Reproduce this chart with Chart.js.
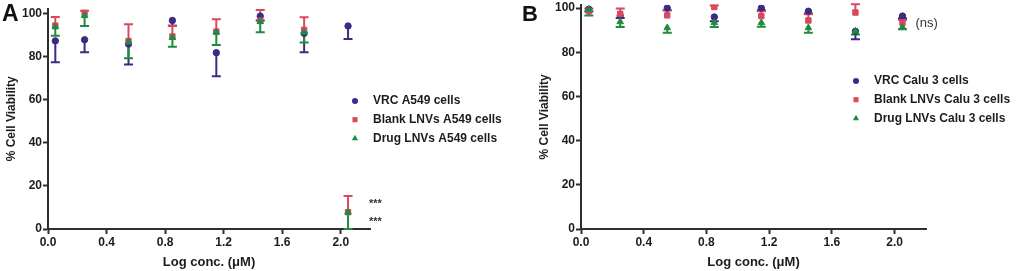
<!DOCTYPE html>
<html>
<head>
<meta charset="utf-8">
<script src="https://cdn.jsdelivr.net/npm/chart.js@4/dist/chart.umd.min.js"></script>
<style>
  html, body { margin: 0; padding: 0; background: #fff; }
  #wrap { position: relative; width: 1024px; height: 271px; overflow: hidden; }
  .box { position: absolute; top: 0; width: 512px; height: 271px; }
</style>
</head>
<body>
<div id="wrap">
  <div class="box" style="left:0"><canvas id="chartA" width="512" height="271"></canvas></div>
  <div class="box" style="left:512px"><canvas id="chartB" width="512" height="271"></canvas></div>
</div>
<script>
// log concentrations (uM), same for both panels
const logConc = [0.05, 0.25, 0.55, 0.85, 1.15, 1.45, 1.75, 2.05]
const xTicks = [0, 0.4, 0.8, 1.2, 1.6, 2.0]
const yTicks = [0, 20, 40, 60, 80, 100]

// panel A - A549 cells (mean, SD)
const vrcA = [87.5, 88, 86, 97, 82, 99, 91, 94.4]
const vrcAErr = [10, 5.8, 9.5, 2.5, 11, 2, 8.8, 6]
const blankA = [94.6, 100.5, 87.4, 89.5, 91.8, 96.9, 92.6, 7.8]
const blankAErr = [4, 1, 7.8, 5, 5.7, 5, 5.9, 7.5]
const drugA = [94, 99.2, 87, 89, 91.5, 96.4, 91.5, 7.8]
const drugAErr = [4.1, 4.8, 7.6, 4.2, 5.9, 4.9, 4.8, 7.8]

// panel B - Calu 3 cells (mean, SD)
const vrcB = [99.5, 96.5, 100, 96, 100, 98.6, 89.5, 96.4]
const vrcBErr = [1, 1, 1, 2, 1, 1, 3.6, 1]
const blankB = [98.6, 97.4, 96.7, 100.5, 96.4, 94.4, 98, 93.4]
const blankBErr = [1.2, 2.4, 2.3, 0.7, 2.2, 2.8, 3.7, 1.2]
const drugB = [99.4, 93.8, 91.1, 93.4, 93.4, 91.1, 89.6, 91.4]
const drugBErr = [2.8, 2.4, 2.2, 2, 1.8, 2.2, 1.6, 1]

const PURPLE = '#3C2B85'
const RED = '#D9485E'
const GREEN = '#1F8B3F'
const AXIS = '#2e2e2e'
const TXT = '#1c1c1c'
const FONT = "'Liberation Sans', Arial, sans-serif"

Chart.defaults.font.family = FONT

const makeSet = (label, values, errs, dir, color, style, radius, order) => ({
    label: label,
    data: values.map((v, i) => ({ x: logConc[i], y: v })),
    errors: errs,
    errDir: dir,
    pointStyle: style,
    pointRadius: radius,
    pointHoverRadius: radius,
    backgroundColor: color,
    borderColor: color,
    pointBorderWidth: 1,
    showLine: false,
    order: order
})

// error bars, one-sided like the original figure
const errorBars = {
    id: 'errorBars',
    beforeDatasetsDraw(chart) {
        const { ctx, scales: { x, y } } = chart
        chart.data.datasets.forEach(ds => {
            ctx.save()
            ctx.strokeStyle = ds.borderColor
            ctx.lineWidth = 2
            ds.data.forEach((p, i) => {
                const e = ds.errors[i]
                if (!e) return
                const px = x.getPixelForValue(p.x)
                const py = y.getPixelForValue(p.y)
                const ey = y.getPixelForValue(p.y + ds.errDir * e)
                ctx.beginPath()
                ctx.moveTo(px, py)
                ctx.lineTo(px, ey)
                ctx.moveTo(px - 4.5, ey)
                ctx.lineTo(px + 4.5, ey)
                ctx.stroke()
            })
            ctx.restore()
        })
    }
}

// legend + panel letter + notes drawn on the canvas
const extras = {
    id: 'extras',
    afterDraw(chart, args, opts) {
        const { ctx, scales: { x, y } } = chart
        ctx.save()
        // panel letter
        ctx.fillStyle = '#111'
        ctx.font = 'bold ' + opts.letterSize + 'px ' + FONT
        ctx.textBaseline = 'alphabetic'
        ctx.textAlign = 'left'
        ctx.fillText(opts.letter, opts.letterX, 21)
        // legend
        ctx.font = 'bold 12px ' + FONT
        ctx.textBaseline = 'middle'
        chart.data.datasets.forEach((ds, i) => {
            const ly = opts.legendY + i * 18.7
            ctx.fillStyle = ds.backgroundColor
            ctx.strokeStyle = ds.borderColor
            Chart.helpers.drawPoint(ctx, { pointStyle: ds.pointStyle, radius: ds.pointStyle === 'circle' ? 3 : 3.6, rotation: 0, borderWidth: 0 }, opts.legendX, ly)
            ctx.fillStyle = TXT
            ctx.fillText(ds.label, opts.legendX + 18, ly)
        })
        // significance notes
        ;(opts.notes || []).forEach(n => {
            ctx.font = n.font
            ctx.fillStyle = '#333'
            ctx.textAlign = 'left'
            ctx.fillText(n.text, x.getPixelForValue(n.x) + n.dx, y.getPixelForValue(n.y))
        })
        ctx.restore()
    }
}

const makeChart = (id, datasets, yMax, pad, opts) => new Chart(document.getElementById(id), {
    type: 'scatter',
    data: { datasets: datasets },
    plugins: [errorBars, extras],
    options: {
        responsive: false,
        animation: false,
        layout: { padding: pad },
        plugins: {
            legend: { display: false },
            tooltip: { enabled: false },
            extras: opts
        },
        scales: {
            x: {
                type: 'linear',
                min: 0,
                max: 2.2,
                afterBuildTicks: s => { s.ticks = xTicks.map(v => ({ value: v })) },
                afterFit: s => { s.height = 42; s.paddingLeft = 0; s.paddingRight = 0 },
                grid: { drawOnChartArea: false, drawTicks: true, tickLength: 5, tickWidth: 2, tickColor: AXIS },
                border: { color: AXIS, width: 2 },
                ticks: { padding: 1, color: TXT, font: { size: 12, weight: 'bold' }, callback: v => Number(v).toFixed(1) },
                title: { display: true, text: 'Log conc. (μM)', color: TXT, font: { size: 13, weight: 'bold' }, padding: { top: 0, bottom: 1 } }
            },
            y: {
                min: 0,
                max: yMax,
                afterBuildTicks: s => { s.ticks = yTicks.map(v => ({ value: v })) },
                afterFit: s => { s.width = 48; s.paddingTop = 0; s.paddingBottom = 0 },
                grid: { drawOnChartArea: false, drawTicks: true, tickLength: 5, tickWidth: 2, tickColor: AXIS },
                border: { color: AXIS, width: 2 },
                ticks: { padding: 1, color: TXT, font: { size: 12, weight: 'bold' }, callback: v => String(v) },
                title: { display: true, text: '% Cell Viability', color: TXT, font: { size: 12, weight: 'bold' }, padding: { top: 4, bottom: 0 } }
            }
        }
    }
})

makeChart('chartA', [
    makeSet('VRC A549 cells', vrcA, vrcAErr, -1, PURPLE, 'circle', 3.2, 3),
    makeSet('Blank LNVs A549 cells', blankA, blankAErr, 1, RED, 'rect', 3.8, 2),
    makeSet('Drug LNVs A549 cells', drugA, drugAErr, -1, GREEN, 'triangle', 3.8, 1)
], 102.5, { left: 0, top: 8.6, right: 142, bottom: 0 }, {
    letter: 'A', letterX: 2, letterSize: 23, legendX: 355, legendY: 101,
    notes: [
        { text: '***', x: 2.05, dx: 21, y: 11.5, font: 'bold 11px ' + FONT },
        { text: '***', x: 2.05, dx: 21, y: 3.3, font: 'bold 11px ' + FONT }
    ]
})

makeChart('chartB', [
    makeSet('VRC Calu 3 cells', vrcB, vrcBErr, -1, PURPLE, 'circle', 3.2, 3),
    makeSet('Blank LNVs Calu 3 cells', blankB, blankBErr, 1, RED, 'rect', 3.8, 2),
    makeSet('Drug LNVs Calu 3 cells', drugB, drugBErr, -1, GREEN, 'triangle', 3.8, 1)
], 101.5, { left: 21, top: 3.7, right: 98, bottom: 0 }, {
    letter: 'B', letterX: 10, letterSize: 22, legendX: 344, legendY: 81,
    notes: [
        { text: '(ns)', x: 2.05, dx: 13, y: 93.2, font: '13px ' + FONT }
    ]
})
</script>
</body>
</html>
